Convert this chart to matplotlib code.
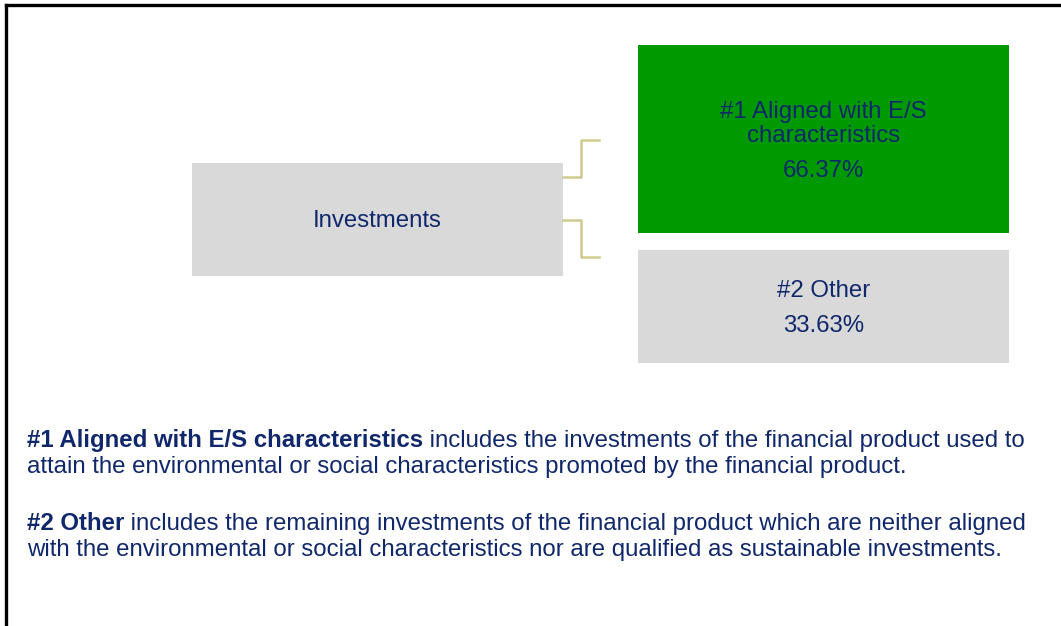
import matplotlib
matplotlib.use("Agg")
import matplotlib.pyplot as plt
from matplotlib.patches import Rectangle

# ---- data ----
root_label = "Investments"
categories = ["#1 Aligned with E/S\ncharacteristics", "#2 Other"]
shares = [66.37, 33.63]
bold_terms = ["#1 Aligned with E/S characteristics", "#2 Other"]
descriptions = [
    [" includes the investments of the financial product used to",
     "attain the environmental or social characteristics promoted by the financial product."],
    [" includes the remaining investments of the financial product which are neither aligned",
     "with the environmental or social characteristics nor are qualified as sustainable investments."],
]

# ---- style ----
W, H = 1061, 626
TXT = "#10286b"
GREY = "#d9d9d9"
GREEN = "#009900"
CONN = "#cfcb8f"
FS = 17.27
DY = 2  # vertical nudge for centred text
plt.rcParams['font.family'] = ['Liberation Sans', 'DejaVu Sans']

fig = plt.figure(figsize=(W / 100, H / 100), dpi=100)
ax = fig.add_axes([0, 0, 1, 1])
ax.set_xlim(0, W)
ax.set_ylim(H, 0)
ax.axis('off')

# frame (top and left edges visible)
ax.plot([6, W], [5, 5], color='black', lw=2.4, solid_capstyle='projecting')
ax.plot([6, 6], [5, H], color='black', lw=2.4, solid_capstyle='projecting')

# root box
ax.add_patch(Rectangle((192, 163), 371, 113, facecolor=GREY, edgecolor='none'))
ax.text(377, 219 + DY, root_label, ha='center', va='center', fontsize=FS, color=TXT)

# child boxes
boxes = [(638, 45, 371, 188, GREEN), (638, 250, 371, 113, GREY)]
for (x, y, w, h, c), cat, s in zip(boxes, categories, shares):
    ax.add_patch(Rectangle((x, y), w, h, facecolor=c, edgecolor='none'))
    lines = cat.split("\n")
    cx = x + w / 2
    if len(lines) == 2:
        for ly, txt in zip((110, 134), lines):
            ax.text(cx, ly + DY, txt, ha='center', va='center', fontsize=FS, color=TXT)
        ax.text(cx, 169 + DY, f"{s:.2f}%", ha='center', va='center', fontsize=FS, color=TXT)
    else:
        ax.text(cx, 289 + DY, cat, ha='center', va='center', fontsize=FS, color=TXT)
        ax.text(cx, 324 + DY, f"{s:.2f}%", ha='center', va='center', fontsize=FS, color=TXT)

# connectors
ax.plot([563, 581, 581, 599], [177, 177, 140, 140], color=CONN, lw=1.8)
ax.plot([563, 581, 581, 599], [220, 220, 257, 257], color=CONN, lw=1.8)

# descriptions
line_y = [(439, 465), (522, 548)]
for term, desc, (y1, y2) in zip(bold_terms, descriptions, line_y):
    t = ax.text(27, y1 + DY, term, ha='left', va='center', fontsize=FS, color=TXT, fontweight='bold')
    ax.annotate(desc[0], xy=(1, 0.5), xycoords=t, ha='left', va='center',
                fontsize=FS, color=TXT)
    ax.text(27, y2 + DY, desc[1], ha='left', va='center', fontsize=FS, color=TXT)

fig.savefig("out.png", dpi=100)
